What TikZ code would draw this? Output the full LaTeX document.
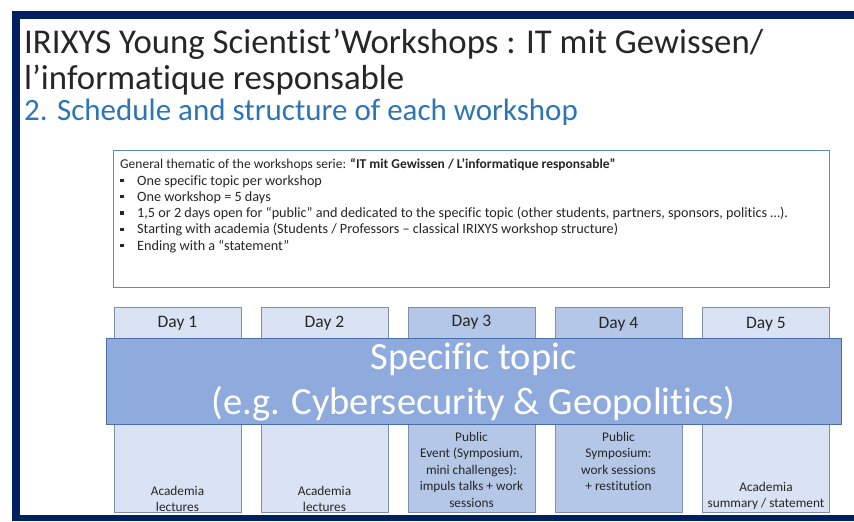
\documentclass[tikz,border=0pt]{standalone}
\usepackage{fontspec}
\setmainfont{Carlito}[RawFeature={-liga;-clig;-calt;-dlig}]
\definecolor{navy}{HTML}{002060}
\definecolor{titleblue}{HTML}{2E75B6}
\definecolor{boxline}{HTML}{5A8FAE}
\definecolor{daylight}{HTML}{DAE3F3}
\definecolor{daydark}{HTML}{B4C7E7}
\definecolor{dayline}{HTML}{7F8FA9}
\definecolor{bannerfill}{HTML}{8FAADC}
\definecolor{bannerline}{HTML}{4A6EA8}
\newcommand\bul{\makebox[17pt][l]{\rule[3pt]{3.4pt}{3.4pt}}}
\tikzset{
  frame/.style={fill=navy, draw=none},
  dayboxlight/.style={draw=dayline, fill=daylight, line width=0.8pt},
  dayboxdark/.style={draw=dayline, fill=daydark, line width=0.8pt},
  daylabel/.style={font=\fontsize{17.5}{20}\selectfont, text=black!85},
  daytext/.style={font=\fontsize{13.3}{16.5}\selectfont, align=center, text=black!85, inner sep=0pt},
  listtext/.style={font=\fontsize{14.2}{16.3}\selectfont, align=left, text=black!85, inner sep=0pt},
  titletext/.style={anchor=base west, inner sep=0pt},
}
\begin{document}
\begin{tikzpicture}[x=1pt,y=-1pt]
\useasboundingbox (0,0) rectangle (854,522);
\fill[white] (0,0) rectangle (854,522);
% frame bars
\path[frame] (12,11) rectangle (854,19);
\path[frame] (12,11) rectangle (19.5,521);
\path[frame] (12,514.5) rectangle (854,521);
% titles
\node[titletext, font=\fontsize{34.8}{40}\selectfont, text=black!85] (t1) at (24,53) {IRIXYS Young Scientist’Workshops : IT mit Gewissen/};
\node[titletext, font=\fontsize{34.8}{40}\selectfont, text=black!85] (t2) at (24,89) {l’informatique responsable};
\node[titletext, font=\fontsize{31}{36}\selectfont, text=titleblue] (t3) at (24,120) {2. Schedule and structure of each workshop};
% general box
\node[draw=boxline, line width=0.8pt, minimum width=716pt, minimum height=137pt, anchor=north west, inner sep=0pt] (gbox) at (113,150) {};
\node[listtext, font=\fontsize{13.5}{16}\selectfont, anchor=base west] (ghead) at (120,168) {General thematic of the workshops serie: \textbf{“IT mit Gewissen / L’informatique responsable”}};
\node[listtext, anchor=north west] (glist) at (120,175) {\bul One specific topic per workshop\\
\bul One workshop = 5 days\\
\bul 1,5 or 2 days open for “public” and dedicated to the specific topic (other students, partners, sponsors, politics …).\\
\bul Starting with academia (Students / Professors – classical IRIXYS workshop structure)\\
\bul Ending with a “statement”};
% day columns
\node[dayboxlight, minimum width=127pt, minimum height=205pt, anchor=north, inner sep=0pt] (d1) at (177.5,307) {};
\node[dayboxlight, minimum width=127pt, minimum height=205pt, anchor=north, inner sep=0pt] (d2) at (324.5,307) {};
\node[dayboxdark, minimum width=127pt, minimum height=205pt, anchor=north, inner sep=0pt] (d3) at (471.5,307) {};
\node[dayboxdark, minimum width=127pt, minimum height=205pt, anchor=north, inner sep=0pt] (d4) at (618.5,307) {};
\node[dayboxlight, minimum width=127pt, minimum height=205pt, anchor=north, inner sep=0pt] (d5) at (766,307) {};
\node[daylabel] (l1) at (177.5,323) {Day 1};
\node[daylabel] (l2) at (324.5,323) {Day 2};
\node[daylabel] (l3) at (471.5,322) {Day 3};
\node[daylabel] (l4) at (618.5,324) {Day 4};
\node[daylabel] (l5) at (766,324) {Day 5};
% banner
\node[fill=bannerfill, draw=bannerline, line width=0.6pt, minimum width=735pt, minimum height=86pt, anchor=north west, inner sep=0pt] (banner) at (106,338) {};
\node[font=\fontsize{38.5}{45}\selectfont, text=white, align=center, inner sep=0pt] (btext) at (473.5,382) {Specific topic\\(e.g. Cybersecurity \& Geopolitics)};
% bottom texts
\node[daytext, anchor=south] (b1) at (177.5,512) {Academia\\lectures};
\node[daytext, anchor=south] (b2) at (324.5,512) {Academia\\lectures};
\node[daytext, anchor=north] (b3) at (471.5,432) {Public\\Event (Symposium,\\mini challenges):\\impuls talks + work\\sessions};
\node[daytext, anchor=north] (b4) at (618.5,432) {Public\\Symposium:\\work sessions\\+ restitution};
\node[daytext, anchor=south] (b5) at (766,510) {Academia\\summary / statement};
\end{tikzpicture}
\end{document}
